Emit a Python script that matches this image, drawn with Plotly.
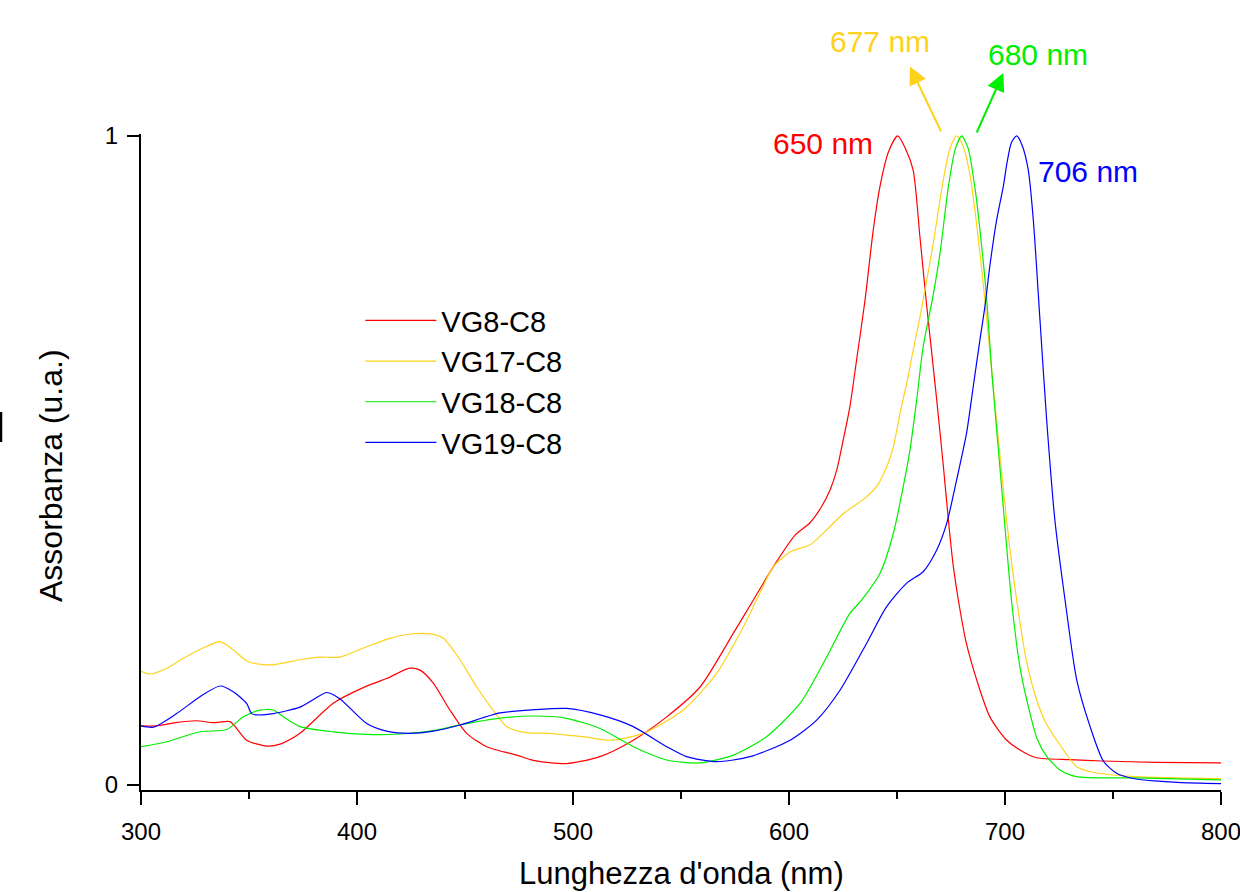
import plotly.graph_objects as go

# ---------------- data ----------------
red_x = [300, 307, 316, 325.8, 333.4, 341.2, 344.3, 348.9, 358.2, 364.4, 373.6, 389, 402.9, 413.7,
         424.5, 429.2, 435.3, 443, 450.8, 460, 474, 481.6, 497, 512.5, 527.9, 543.4, 558.8, 574.2,
         583.5, 592.7, 602.8, 609.7, 615.1, 619, 622.1, 625.1, 628.2, 631.3, 635.2, 639, 642.1,
         646, 650.3, 654, 657.5, 660.6, 663.7, 665.3, 668.4, 671.5, 673.8, 676.1, 678.4, 682, 686.9,
         693, 700.8, 708.5, 714.7, 730, 745, 770, 800]
red_y = [0.091, 0.091, 0.096, 0.099, 0.096, 0.0976, 0.087, 0.069, 0.060, 0.063, 0.0796, 0.126, 0.150,
         0.164, 0.180, 0.177, 0.157, 0.1156, 0.0796, 0.059, 0.046, 0.038, 0.033, 0.0437, 0.069, 0.105,
         0.151, 0.2337, 0.285, 0.336, 0.385, 0.404, 0.429, 0.4545, 0.485, 0.5316, 0.583, 0.655, 0.747,
         0.855, 0.922, 0.975, 1.0, 0.98, 0.947, 0.845, 0.74, 0.69, 0.593, 0.49, 0.408, 0.336,
         0.285, 0.22, 0.162, 0.105, 0.069, 0.051, 0.042, 0.039, 0.037, 0.035, 0.034]

yel_x = [300, 304, 312, 320, 330, 336.6, 342, 349.7, 359.7, 373.6, 382.9, 392, 404.5, 415.3, 426,
         435.3, 440, 447.7, 455.4, 463, 469.3, 478.5, 489.4, 497, 504.8, 517.1, 532.5, 551.1, 566.5,
         577.3, 585, 592.7, 600.5, 609.7, 617.4, 625.1, 635.2, 640.6, 645.2, 648.3, 651.4, 654.5,
         657.5, 660.6, 662.1, 666.8, 671.4, 674.5, 677.6, 680.5, 683.8, 687, 690, 693.8, 697, 701,
         705.4, 710, 714.7, 719, 724, 733.2, 740, 760, 800]
yel_y = [0.175, 0.171, 0.180, 0.196, 0.213, 0.221, 0.210, 0.19, 0.185, 0.193, 0.197, 0.197, 0.213,
         0.226, 0.233, 0.232, 0.226, 0.193, 0.151, 0.1155, 0.090, 0.0806, 0.0796, 0.077, 0.0745,
         0.069, 0.0796, 0.1156, 0.172, 0.2337, 0.285, 0.336, 0.359, 0.37, 0.393, 0.418, 0.442, 0.46,
         0.49, 0.521, 0.573, 0.619, 0.67, 0.72, 0.747, 0.835, 0.932, 0.98, 1.0, 0.985, 0.94, 0.86,
         0.77, 0.64, 0.53, 0.40, 0.285, 0.19, 0.131, 0.095, 0.069, 0.028, 0.02, 0.013, 0.01]

grn_x = [300, 311.9, 327.3, 339.7, 347.4, 355.1, 361.3, 365.9, 373.6, 389, 404.5, 419.9, 435.3,
         447.7, 466.2, 481.6, 497.1, 512.5, 528, 543.4, 558.8, 574.2, 589.6, 605.1, 615.9, 628.2,
         633.6, 642.1, 648.3, 652.9, 656, 659.1, 662.1, 666.5, 669.9, 673.8, 677, 680, 683, 686.5,
         689.2, 691.5, 693.8, 698.4, 703, 707, 711.6, 715, 719.3, 725.5, 733, 760, 800]
grn_y = [0.059, 0.0667, 0.082, 0.0855, 0.105, 0.1155, 0.1155, 0.105, 0.09, 0.082, 0.078, 0.0786,
         0.0837, 0.0925, 0.103, 0.1063, 0.1027, 0.087, 0.059, 0.0385, 0.034, 0.046, 0.0745, 0.1256,
         0.1875, 0.2645, 0.285, 0.326, 0.3875, 0.46, 0.516, 0.593, 0.675, 0.75, 0.819, 0.922, 0.98,
         1.0, 0.98, 0.91, 0.83, 0.75, 0.64, 0.46, 0.285, 0.18, 0.11, 0.07, 0.044, 0.023, 0.013,
         0.011, 0.008]

blu_x = [300, 305.7, 316.5, 327.3, 336.6, 342.7, 348.9, 351.2, 353.5, 361.3, 373.6, 380, 386, 392,
         404.5, 413.7, 424.5, 435.3, 447.7, 466.2, 481.6, 497.1, 512.5, 527.9, 543.4, 552.6, 566.5,
         582, 600.5, 612.8, 623.6, 635.9, 645.2, 654.5, 662.1, 668.4, 673, 677.6, 682.2, 685.3,
         688.4, 690.7, 693, 696.1, 699.2, 701, 703, 705.4, 708, 710.8, 713.1, 716.2, 719.3, 723.1,
         727.8, 733.2, 739.4, 745.5, 751.7, 759.4, 780, 800]
blu_y = [0.091, 0.089, 0.110, 0.136, 0.1525, 0.1438, 0.1256, 0.110, 0.108, 0.110, 0.120, 0.132,
         0.1425, 0.133, 0.0948, 0.083, 0.0796, 0.083, 0.0925, 0.111, 0.116, 0.118, 0.108, 0.09,
         0.059, 0.0437, 0.036, 0.0437, 0.069, 0.100, 0.146, 0.218, 0.2747, 0.311, 0.3286, 0.362,
         0.403, 0.47, 0.542, 0.614, 0.686, 0.737, 0.80, 0.87, 0.922, 0.96, 0.99, 1.0, 0.985, 0.947,
         0.871, 0.716, 0.562, 0.408, 0.285, 0.162, 0.09, 0.037, 0.018, 0.01, 0.004, 0.002]

names = ["VG8-C8", "VG17-C8", "VG18-C8", "VG19-C8"]
colors = ["#FF0000", "#FFD21A", "#00EE00", "#0000FF"]
xs = [red_x, yel_x, grn_x, blu_x]
ys = [red_y, yel_y, grn_y, blu_y]

x_ticks = [300, 400, 500, 600, 700, 800]
x_minor = [350, 450, 550, 650, 750]
y_ticks = [0, 1]
y_ticktext = ["0", "1"]

peak_labels = ["650 nm", "677 nm", "680 nm", "706 nm"]
peak_label_x = [615.7, 642.1, 715.5, 738.2]
peak_label_y = [0.989, 1.145, 1.125, 0.945]

# arrows: head (x, y) and tail (x, y) in data units
arrow_head_x = [656.0, 699.2]
arrow_head_y = [1.107, 1.097]
arrow_tail_x = [670.7, 686.6]
arrow_tail_y = [1.005, 1.003]
arrow_colors = [colors[1], colors[2]]

X_RANGE = [300, 800]
Y_RANGE = [-0.0077, 1.003]
FONT = "Liberation Sans, Arial, sans-serif"

ML, MR, MT, MB = 141, 19, 134, 102
W, H = 1240, 892
PW, PH = W - ML - MR, H - MT - MB


def xp(v):
    return (v - X_RANGE[0]) / (X_RANGE[1] - X_RANGE[0])


def yp(v):
    return (v - Y_RANGE[0]) / (Y_RANGE[1] - Y_RANGE[0])


fig = go.Figure()
for x, y, n, c in zip(xs, ys, names, colors):
    fig.add_trace(go.Scatter(x=x, y=y, name=n, mode="lines",
                             line=dict(color=c, width=1.2, shape="spline", smoothing=0.7)))

for t, px, py, c in zip(peak_labels, peak_label_x, peak_label_y, colors):
    fig.add_annotation(x=xp(px), y=yp(py), xref="paper", yref="paper", text=t, showarrow=False,
                       font=dict(family=FONT, size=30, color=c), xanchor="center", yanchor="middle")

for hx, hy, tx, ty, c in zip(arrow_head_x, arrow_head_y, arrow_tail_x, arrow_tail_y, arrow_colors):
    fig.add_annotation(x=xp(hx), y=yp(hy), xref="paper", yref="paper",
                       axref="pixel", ayref="pixel",
                       ax=(xp(tx) - xp(hx)) * PW, ay=-(yp(ty) - yp(hy)) * PH,
                       text="", showarrow=True, arrowhead=2, arrowsize=1.8, arrowwidth=2,
                       arrowcolor=c)

# axis titles
fig.add_annotation(x=0.5, y=(790 - 873) / PH, xref="paper", yref="paper",
                   text="Lunghezza d'onda (nm)", showarrow=False, xanchor="center", yanchor="middle",
                   font=dict(family=FONT, size=31, color="black"))
fig.add_annotation(x=(51 - ML) / PW, y=(790 - 476) / PH, xref="paper", yref="paper",
                   text="Assorbanza (u.a.)", showarrow=False, textangle=-90,
                   xanchor="center", yanchor="middle",
                   font=dict(family=FONT, size=32, color="black"))

# small stray mark at the left edge of the reference
fig.add_shape(type="line", xref="paper", yref="paper", x0=(1 - ML) / PW, x1=(1 - ML) / PW,
              y0=(790 - 442) / PH, y1=(790 - 412) / PH, line=dict(color="black", width=2.5))

fig.update_layout(
    width=W, height=H,
    margin=dict(l=ML, r=MR, t=MT, b=MB, autoexpand=False),
    paper_bgcolor="white", plot_bgcolor="white",
    font=dict(family=FONT, color="black"),
    showlegend=True,
    legend=dict(x=0.2031, y=0.7546, xanchor="left", yanchor="top", bgcolor="rgba(0,0,0,0)",
                font=dict(family=FONT, size=29, color="black"), itemwidth=71,
                tracegroupgap=0, borderwidth=0),
    xaxis=dict(range=X_RANGE, tickvals=x_ticks, ticks="outside", ticklen=13, tickwidth=2,
               tickcolor="black", showline=True, linecolor="black", linewidth=2,
               showgrid=False, zeroline=False, tickfont=dict(family=FONT, size=24),
               ticklabelstandoff=6, ticklabeloverflow="allow", automargin=False,
               minor=dict(tickvals=x_minor, ticks="outside", ticklen=7,
                          tickwidth=2, tickcolor="black")),
    yaxis=dict(range=Y_RANGE, tickvals=y_ticks, ticktext=y_ticktext, ticks="outside",
               ticklen=12, tickwidth=2, tickcolor="black", showline=True, linecolor="black",
               linewidth=2, showgrid=False, zeroline=False, tickfont=dict(family=FONT, size=24),
               ticklabelstandoff=4, automargin=False),
)

fig.write_html("out.html")
